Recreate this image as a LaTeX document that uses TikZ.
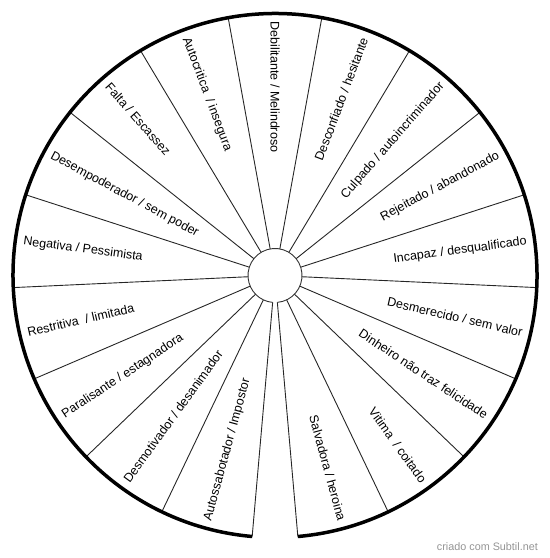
\documentclass[tikz,border=0pt]{standalone}
\usepackage{fontspec}
\setmainfont{Liberation Sans}
\begin{document}
\begin{tikzpicture}[x=1bp,y=1bp,
  spoke/.style={line width=0.9bp, draw=black!85},
  rim/.style={line width=3.5bp, draw=black},
  hubline/.style={line width=0.9bp, draw=black!80},
  lbl/.style={font=\fontsize{12.5bp}{15bp}\selectfont, inner sep=0pt, text=black},
  lblright/.style={lbl, anchor=east},
  lblleft/.style={lbl, anchor=west},
  credit/.style={font=\fontsize{10.8bp}{13bp}\selectfont, inner sep=0pt, text=black!42, anchor=east}
]
\useasboundingbox (0,0) rectangle (550,558);
\begin{scope}[shift={(275,282.5)}]
  \coordinate (hubc) at (0,0);
  % spokes
  \foreach \k in {0,...,17}{
    \pgfmathsetmacro\a{-85+\k*350/17}
    \coordinate (in\k) at (\a:27);
    \coordinate (out\k) at (\a:262);
    \draw[spoke] (in\k) -- (out\k);
  }
  % rim and hub (open at the bottom)
  \draw[rim] (-85:262) arc[start angle=-85, end angle=265, radius=262];
  \draw[hubline] (-85:27) arc[start angle=-85, end angle=265, radius=27];
  % labels on the right half (read outward)
  \foreach \t [count=\i from 0] in {Salvadora / heroina, Vitima\ \ / coitado, Dinheiro não traz felicidade, Desmerecido / sem valor, Incapaz / desqualificado, Rejeitado / abandonado, Culpado / autoincriminador, Desconfiado / hesitante}{
    \pgfmathsetmacro\a{-85+(\i+0.5)*350/17}
    \node[lblright, rotate=\a] (labr\i) at (\a:254) {\t};
  }
  % labels on the left half (read inward)
  \foreach \t [count=\i from 8] in {Debilitante / Melindroso, Autocritica\ \ / insegura, Falta / Escassez, Desempoderador / sem poder, Negativa / Pessimista, Restritiva\ \ / limitada, Paralisante / estagnadora, Desmotivador / desanimador, Autossabotador / Impostor}{
    \pgfmathsetmacro\a{-85+(\i+0.5)*350/17}
    \pgfmathsetmacro\r{\a-180}
    \node[lblleft, rotate=\r] (labl\i) at (\a:254) {\t};
  }
\end{scope}
\node[credit] (creditnode) at (538,11.5) {criado com Subtil.net};
\end{tikzpicture}
\end{document}
